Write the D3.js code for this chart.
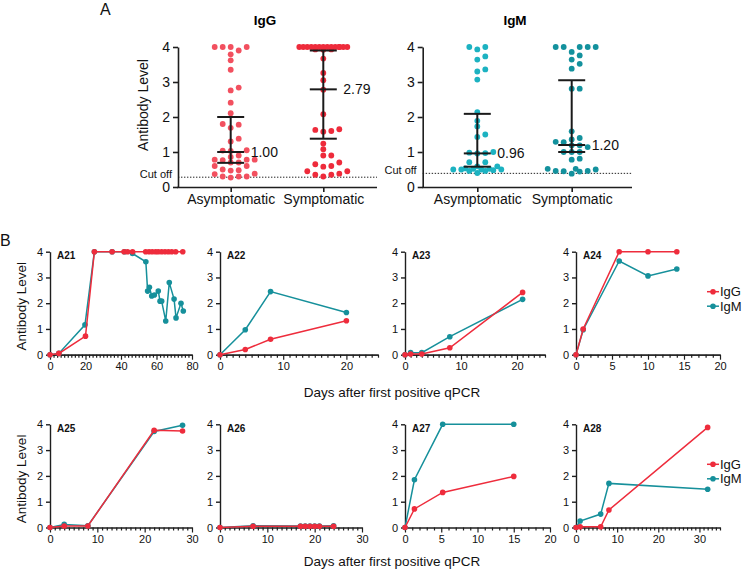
<!DOCTYPE html>
<html><head><meta charset="utf-8">
<script src="https://cdn.jsdelivr.net/npm/d3@7"></script>
<style>
body{margin:0;background:#fff;}
svg{display:block;}
</style></head><body>
<svg id="chart" width="745" height="571"></svg>
<script>
// ---------------- DATA ----------------
const groups = ["Asymptomatic", "Symptomatic"];
const yTicks = [0, 1, 2, 3, 4];

// Panel A – antibody levels per patient
const iggAsym = [4.0,4.0,4.0,4.0,3.9,3.79,3.62,3.35,2.84,2.76,2.41,2.11,1.8,1.78,1.69,1.38,1.30,1.05,1.04,1.03,0.9,0.86,0.78,0.78,0.78,0.77,0.7,0.7,0.6,0.6,0.48,0.47,0.5,0.38,0.37,0.3,0.3,0.3,0.27];
const iggSym  = [4,4,4,4,4,4,4,4,4,4,4,4,4,4,3.93,3.93,3.92,3.67,3.26,3.05,2.78,2.08,1.65,1.63,1.6,1.58,1.24,1.08,0.9,0.9,0.7,0.65,0.6,0.58,0.45,0.45,0.38,0.35,0.35,0.3];
const igmAsym = [4,4,3.93,3.73,3.64,3.36,3.3,3.07,2.14,1.89,1.73,1.5,1.43,1.0,0.98,0.97,0.96,0.71,0.71,0.59,0.59,0.53,0.52,0.52,0.5,0.5,0.5,0.5,0.48,0.46,0.46,0.4];
const igmSym  = [4,4,4,4,4,3.86,3.76,3.64,3.52,3.38,2.81,2.81,1.59,1.4,1.36,1.29,1.28,1.19,1.19,1.14,1.0,1.0,1.0,0.81,0.78,0.52,0.52,0.5,0.46,0.46,0.45,0.44,0.38];
// summary statistics [Asymptomatic, Symptomatic]
const iggMedian = [1.00, 2.79], iggQ1 = [0.69, 1.38], iggQ3 = [2.00, 3.90];
const igmMedian = [0.96, 1.20], igmQ1 = [0.58, 1.00], igmQ3 = [2.09, 3.05];
const iggCutoff = 0.28, igmCutoff = 0.39;

// Panel B – kinetics (days after first positive qPCR)
const a21IgGDays = [0,5,20,25,35,41.7,43.7,46.5,53.9,55.8,57.6,59.5,61,62.9,64.8,66.7,68.6,70.8,74.8];
const a21IgG     = [0,0.05,0.72,4,4,4,4,4,4,4,4,4,4,4,4,4,4,4,4];
const a21IgMDays = [0,5,19.7,25,35,42,46.5,54,55,56,57.3,58.8,61,62,62.9,65.2,67.2,69.9,71,73.8,75.1];
const a21IgM     = [0,0.05,1.16,4,4,4,3.93,3.61,2.47,2.62,2.28,2.32,2.47,2.08,2.08,1.31,2.8,2.16,1.43,2.0,1.7];
const a22Days = [0,4,8,20],        a22IgG = [0,0.2,0.6,1.32],         a22IgM = [0,0.97,2.45,1.64];
const a23Days = [0,1,3,8,21],      a23IgG = [0,0.03,0.03,0.27,2.42],  a23IgM = [0,0.08,0.08,0.7,2.15];
const a24Days = [0,1,6,10,14],     a24IgG = [0,1,4,4,4],              a24IgM = [0,0.97,3.64,3.06,3.33];
const a25Days = [0,3,8,22,28],     a25IgG = [0,0.06,0.06,3.77,3.74],  a25IgM = [0,0.12,0.07,3.72,3.96];
const a26Days = [0,7,17,18,19,20,21,24], a26IgG = [0,0.05,0.05,0.05,0.05,0.05,0.05,0.05], a26IgM = [0,0.07,0.06,0.06,0.06,0.06,0.06,0.07];
const a27Days = [0,1.3,5.2,15],    a27IgG = [0,0.72,1.36,1.98],       a27IgM = [0,1.85,4,4];
const a28Days = [0,1,6,8,32],      a28IgG = [0,0.03,0.03,0.68,3.88],  a28IgM = [0,0.25,0.52,1.71,1.48];
const seriesNames = ["IgG", "IgM"];

// ---------------- STYLE / LAYOUT ----------------
const FONT = "'Liberation Sans', Arial, Helvetica, sans-serif";
const RED = "#ee2c3c", TEAL = "#16909b";
const AXIS = "#1e1e1e";
const svg = d3.select("#chart").style("font-family", FONT);

function styleAxis(sel, fs, sw) {
  sel.selectAll("path,line").attr("stroke", AXIS).attr("stroke-width", sw);
  sel.selectAll("text").attr("fill", "#111").attr("font-size", fs).attr("font-family", FONT);
}

// beeswarm-like layout (Prism style columns)
function swarm(values, y, step, halfMax, h) {
  const pts = values.map(v => ({ v, y: y(v) })).sort((a, b) => b.y - a.y);
  const cands = [0];
  for (let k = 1; k * step <= halfMax; k++) cands.push(k * step, -k * step);
  for (let k = 0; (k + 0.5) * step <= halfMax + 0.01; k++) cands.push((k + 0.5) * step, -(k + 0.5) * step);
  const placed = [];
  pts.forEach(p => {
    let chosen = null;
    for (const c of cands) {
      if (!placed.some(q => Math.abs(q.dx - c) < step / 2 - 0.01 && Math.abs(q.y - p.y) < h)) { chosen = c; break; }
    }
    if (chosen === null) {
      let best = 0, bestScore = Infinity;
      for (const c of cands) {
        const s = placed.filter(q => Math.abs(q.dx - c) < step / 2 && Math.abs(q.y - p.y) < h).length;
        if (s < bestScore) { bestScore = s; best = c; }
      }
      chosen = best;
    }
    p.dx = chosen; placed.push(p);
  });
  return pts;
}

// ---------------- PANEL A ----------------
function drawDotPanel(cfg) {
  const g = svg.append("g");
  const y = d3.scaleLinear().domain([0, 4]).range([187, 47]);
  const x = d3.scalePoint().domain(groups).range([cfg.c0, cfg.c1]);

  g.append("text").attr("x", (cfg.titleX)).attr("y", 25).attr("text-anchor", "middle")
    .attr("font-weight", "bold").attr("font-size", 13.5).text(cfg.title);

  // cutoff
  g.append("line").attr("x1", cfg.x0).attr("x2", cfg.x1).attr("y1", y(cfg.cut)).attr("y2", y(cfg.cut))
    .attr("stroke", "#222").attr("stroke-width", 1).attr("stroke-dasharray", "1.4,1.6");
  g.append("text").attr("x", cfg.x0 - 6).attr("y", y(cfg.cut) - 2).attr("text-anchor", "end")
    .attr("dominant-baseline", "middle").attr("font-size", 11).attr("fill", "#111").text("Cut off");

  const ya = g.append("g").attr("transform", `translate(${cfg.x0},0)`)
    .call(d3.axisLeft(y).tickValues(yTicks).tickFormat(d3.format("d")).tickSize(5).tickSizeOuter(0).tickPadding(3));
  styleAxis(ya, 14, 1.6);

  const xa = g.append("g").attr("transform", `translate(0,${y(0)})`)
    .call(d3.axisBottom(x).tickSize(5).tickSizeOuter(0).tickPadding(2));
  xa.select(".domain").remove();
  styleAxis(xa, 14, 1.6);
  g.append("line").attr("x1", cfg.x0 - 0.8).attr("x2", cfg.x1).attr("y1", y(0) + 0.5).attr("y2", y(0) + 0.5)
    .attr("stroke", AXIS).attr("stroke-width", 1.6);

  if (cfg.ylabel) {
    g.append("text").attr("transform", `translate(${cfg.x0 - 35},${(y(0) + y(4)) / 2 - 12}) rotate(-90)`)
      .attr("text-anchor", "middle").attr("dominant-baseline", "central").attr("font-size", 14)
      .attr("fill", "#111").text("Antibody Level");
  }

  cfg.sets.forEach((vals, i) => {
    const pts = swarm(vals, y, 8, 27, 5.5);
    g.append("g").selectAll("circle").data(pts).join("circle")
      .attr("cx", d => x(groups[i]) + d.dx).attr("cy", d => d.y).attr("r", 2.9)
      .attr("fill", cfg.colors[i]);
  });

  groups.forEach((grp, i) => {
    const cx = x(grp), hw = 13.5;
    const eg = g.append("g").attr("stroke", "#1a1a1a").attr("stroke-width", 2);
    eg.append("line").attr("x1", cx).attr("x2", cx).attr("y1", y(cfg.q1[i])).attr("y2", y(cfg.q3[i]));
    [cfg.q1[i], cfg.median[i], cfg.q3[i]].forEach(v => {
      eg.append("line").attr("x1", cx - hw).attr("x2", cx + hw).attr("y1", y(v)).attr("y2", y(v));
    });
    g.append("text").attr("x", cx + 20).attr("y", y(cfg.median[i])).attr("dominant-baseline", "central")
      .attr("font-size", 14).attr("fill", "#111").text(d3.format(".2f")(cfg.median[i]));
  });
}

drawDotPanel({ title: "IgG", titleX: 265, x0: 178, x1: 377, c0: 230.7, c1: 323.3, cut: iggCutoff,
  sets: [iggAsym, iggSym], colors: ["#f2505f", "#ee2b3b"], median: iggMedian, q1: iggQ1, q3: iggQ3, ylabel: true });
drawDotPanel({ title: "IgM", titleX: 515, x0: 422.7, x1: 632, c0: 477.3, c1: 571.7, cut: igmCutoff,
  sets: [igmAsym, igmSym], colors: ["#1cb2c1", "#13919d"], median: igmMedian, q1: igmQ1, q3: igmQ3, ylabel: false });

svg.append("text").attr("x", 100).attr("y", 14.5).attr("font-size", 16).attr("fill", "#111").text("A");
svg.append("text").attr("x", 0).attr("y", 246).attr("font-size", 16).attr("fill", "#111").text("B");

// ---------------- PANEL B ----------------
const rows = [{ y0: 354.7, y4: 251.7, title: 392.5 }, { y0: 527.5, y4: 424.3, title: 561 }];
const bPanels = [
  { name: "A21", row: 0, x0: 50,  x1: 192, dom: [0, 80], ticks: [0,20,40,60,80], minor: 2,
    gDays: a21IgGDays, g: a21IgG, mDays: a21IgMDays, m: a21IgM },
  { name: "A22", row: 0, x0: 220, x1: 378, dom: [0, 25], ticks: [0,10,20], minor: 1, gDays: a22Days, g: a22IgG, mDays: a22Days, m: a22IgM },
  { name: "A23", row: 0, x0: 405, x1: 545, dom: [0, 25], ticks: [0,10,20], minor: 1, gDays: a23Days, g: a23IgG, mDays: a23Days, m: a23IgM },
  { name: "A24", row: 0, x0: 576, x1: 720, dom: [0, 20], ticks: [0,5,10,15,20], minor: 1, gDays: a24Days, g: a24IgG, mDays: a24Days, m: a24IgM },
  { name: "A25", row: 1, x0: 50,  x1: 192, dom: [0, 30], ticks: [0,10,20,30], minor: 1, gDays: a25Days, g: a25IgG, mDays: a25Days, m: a25IgM },
  { name: "A26", row: 1, x0: 220, x1: 362, dom: [0, 30], ticks: [0,10,20,30], minor: 1, gDays: a26Days, g: a26IgG, mDays: a26Days, m: a26IgM },
  { name: "A27", row: 1, x0: 405, x1: 550, dom: [0, 20], ticks: [0,5,10,15,20], minor: 1, gDays: a27Days, g: a27IgG, mDays: a27Days, m: a27IgM },
  { name: "A28", row: 1, x0: 576, x1: 720, dom: [0, 35], ticks: [0,10,20,30], minor: 1, gDays: a28Days, g: a28IgG, mDays: a28Days, m: a28IgM },
];

bPanels.forEach(p => {
  const r = rows[p.row];
  const g = svg.append("g");
  const x = d3.scaleLinear().domain(p.dom).range([p.x0, p.x1]);
  const y = d3.scaleLinear().domain([0, 4]).range([r.y0, r.y4]);

  const minorVals = d3.range(p.dom[0], p.dom[1] + 0.001, p.minor).filter(v => !p.ticks.includes(v));
  const xm = g.append("g").attr("transform", `translate(0,${r.y0})`)
    .call(d3.axisBottom(x).tickValues(minorVals).tickSize(3).tickSizeOuter(0).tickFormat(""));
  styleAxis(xm, 11, 1.2);
  const xa = g.append("g").attr("transform", `translate(0,${r.y0})`)
    .call(d3.axisBottom(x).tickValues(p.ticks).tickFormat(d3.format("d")).tickSize(5).tickSizeOuter(0).tickPadding(3));
  styleAxis(xa, 11, 1.2);
  const ya = g.append("g").attr("transform", `translate(${p.x0},0)`)
    .call(d3.axisLeft(y).tickValues(yTicks).tickFormat(d3.format("d")).tickSize(4).tickSizeOuter(0).tickPadding(3));
  styleAxis(ya, 11, 1.4);

  g.append("text").attr("x", p.x0 + 7).attr("y", y(4) + 4).attr("dominant-baseline", "central")
    .attr("font-size", 10).attr("font-weight", "bold").attr("fill", "#111").text(p.name);

  const series = [
    { days: p.mDays, vals: p.m, color: TEAL },
    { days: p.gDays, vals: p.g, color: RED },
  ];
  series.forEach(s => {
    const pts = s.days.map((d, i) => [d, s.vals[i]]);
    g.append("path").datum(pts).attr("fill", "none").attr("stroke", s.color).attr("stroke-width", 1.5)
      .attr("d", d3.line().x(d => x(d[0])).y(d => y(d[1])));
    g.append("g").selectAll("circle").data(pts).join("circle")
      .attr("cx", d => x(d[0])).attr("cy", d => y(d[1])).attr("r", 2.8).attr("fill", s.color);
  });
});

rows.forEach((r, i) => {
  svg.append("text").attr("transform", `translate(21,${(r.y0 + r.y4) / 2 + 3}) rotate(-90)`)
    .attr("text-anchor", "middle").attr("dominant-baseline", "central").attr("font-size", 13.5)
    .attr("fill", "#111").text("Antibody Level");
  svg.append("text").attr("x", 392).attr("y", r.title).attr("text-anchor", "middle")
    .attr("dominant-baseline", "central").attr("font-size", 13.5).attr("fill", "#111")
    .text("Days after first positive qPCR");
  // legend
  const ly = [r.y4 + 40, r.y4 + 54.5];
  [RED, TEAL].forEach((c, j) => {
    svg.append("line").attr("x1", 707).attr("x2", 719).attr("y1", ly[j]).attr("y2", ly[j])
      .attr("stroke", c).attr("stroke-width", 1.5);
    svg.append("circle").attr("cx", 713).attr("cy", ly[j]).attr("r", 2.8).attr("fill", c);
    svg.append("text").attr("x", 720).attr("y", ly[j]).attr("dominant-baseline", "central")
      .attr("font-size", 13).attr("fill", "#111").text(seriesNames[j]);
  });
});
</script>
</body></html>
